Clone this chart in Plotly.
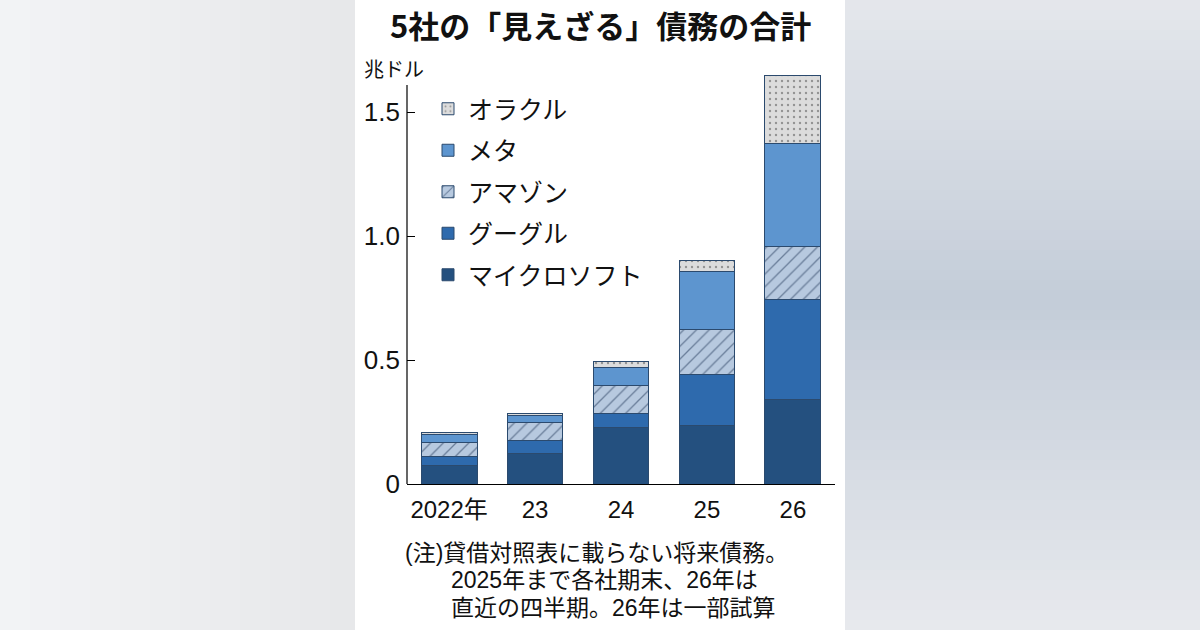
import plotly.graph_objects as go

# values in 兆ドル
years = ["2022年", "23", "24", "25", "26"]
microsoft = [0.073, 0.125, 0.226, 0.234, 0.339]
google = [0.036, 0.052, 0.060, 0.206, 0.403]
amazon = [0.060, 0.073, 0.113, 0.181, 0.214]
meta = [0.032, 0.028, 0.069, 0.234, 0.419]
oracle = [0.008, 0.008, 0.024, 0.048, 0.274]

y_ticks = [0, 0.5, 1.0, 1.5]
y_ticktext = ["0", "0.5", "1.0", "1.5"]

FONT = "Liberation Sans, Noto Sans CJK JP, sans-serif"
JP = "Noto Sans CJK JP, sans-serif"

# plot area in pixels
L, R, T, B = 407, 835, 72, 484
W, H = R - L, B - T


def px(x):
    return (x - L) / W


def py(y):
    return (B - y) / H


fig = go.Figure()

# name, values, colour, pattern, pattern colour, legend rank (oracle on top)
series = [
    ("マイクロソフト", microsoft, "#24507f", "", None, 5),
    ("グーグル", google, "#2e6aad", "", None, 4),
    ("アマゾン", amazon, "#b7c9df", "/", "#1f3658", 3),
    ("メタ", meta, "#5d95cf", "", None, 2),
    ("オラクル", oracle, "#dcdcdc", ".", "#4a4a4a", 1),
]
for name, vals, col, shape, fg, rank in series:
    pat = dict(shape=shape)
    if shape:
        pat.update(fgcolor=fg, bgcolor=col, size=9 if shape == "/" else 6,
                   solidity=0.15 if shape == "/" else 0.12, fillmode="overlay")
    fig.add_trace(go.Bar(
        x=years, y=vals, name=name, legendgroup=name, legendrank=rank,
        marker=dict(color=col, line=dict(color="#2b4a6e", width=1), pattern=pat),
        width=0.65,
    ))

shapes = []
# background gradient outside the white panel
for i in range(63):
    y0, y1 = i * 10, (i + 1) * 10
    t = abs((y0 + 5) - 300) / 330
    r = int(196 + (232 - 196) * t)
    g = int(205 + (234 - 205) * t)
    b = int(217 + (238 - 217) * t)
    shapes.append(dict(type="rect", xref="paper", yref="paper",
                       x0=px(845), x1=px(1200), y0=py(y1), y1=py(y0),
                       fillcolor=f"rgb({r},{g},{b})", line=dict(width=0), layer="below"))
for i in range(36):
    x0, x1 = i * 10, min((i + 1) * 10, 355)
    t = (x0 + 5) / 355
    c = int(243 - 12 * t)
    shapes.append(dict(type="rect", xref="paper", yref="paper",
                       x0=px(x0), x1=px(x1), y0=py(630), y1=py(0),
                       fillcolor=f"rgb({c},{c+1},{c+3})", line=dict(width=0), layer="below"))
shapes.append(dict(type="rect", xref="paper", yref="paper",
                   x0=px(355), x1=px(845), y0=py(630), y1=py(0),
                   fillcolor="white", line=dict(width=0), layer="below"))
# y axis line (stops below the tallest bar)
shapes.append(dict(type="line", xref="paper", yref="paper",
                   x0=0, x1=0, y0=0, y1=py(85), line=dict(color="black", width=1.2)))

annotations = [
    dict(text="<b>5社の「見えざる」債務の合計</b>", x=px(600), y=py(25), xref="paper", yref="paper",
         showarrow=False, font=dict(family=JP, size=31, color="#111"), xanchor="center", yanchor="middle"),
    dict(text="兆ドル", x=px(362), y=py(68), xref="paper", yref="paper",
         showarrow=False, font=dict(family=JP, size=20, color="#111"), xanchor="left", yanchor="middle"),
    dict(text="(注)貸借対照表に載らない将来債務。", x=px(403), y=py(553), xref="paper", yref="paper",
         showarrow=False, font=dict(family=FONT, size=23, color="#111"), xanchor="left", yanchor="middle"),
    dict(text="2025年まで各社期末、26年は", x=px(449), y=py(580), xref="paper", yref="paper",
         showarrow=False, font=dict(family=FONT, size=23, color="#111"), xanchor="left", yanchor="middle"),
    dict(text="直近の四半期。26年は一部試算", x=px(449), y=py(608), xref="paper", yref="paper",
         showarrow=False, font=dict(family=FONT, size=23, color="#111"), xanchor="left", yanchor="middle"),
]

fig.update_layout(
    width=1200, height=630,
    margin=dict(l=L, r=1200 - R, t=T, b=630 - B),
    paper_bgcolor="#e6e8eb", plot_bgcolor="rgba(0,0,0,0)",
    barmode="stack", bargap=0.35,
    showlegend=True,
    legend=dict(x=px(428), y=py(86), xanchor="left", yanchor="top",
                traceorder="grouped", tracegroupgap=6,
                font=dict(family=JP, size=25, color="#111"),
                bgcolor="rgba(0,0,0,0)", itemclick=False),
    shapes=shapes, annotations=annotations,
    font=dict(family=FONT, color="#111"),
)
fig.update_xaxes(range=[-0.49, 4.49], showline=True, linecolor="black", linewidth=1.2,
                 ticks="", showgrid=False, tickfont=dict(size=24, family=FONT), ticklabelstandoff=4)
fig.update_yaxes(range=[0, H / 248], tickvals=y_ticks, ticktext=y_ticktext, showgrid=False,
                 zeroline=False, ticks="inside", ticklen=8, tickcolor="black",
                 tickfont=dict(size=26, family=FONT), ticklabelstandoff=6)

# the page's default body margin would push the figure 8px off
fig.write_html("out.html", config={"displayModeBar": False},
               post_script="document.body.style.margin='0';")
